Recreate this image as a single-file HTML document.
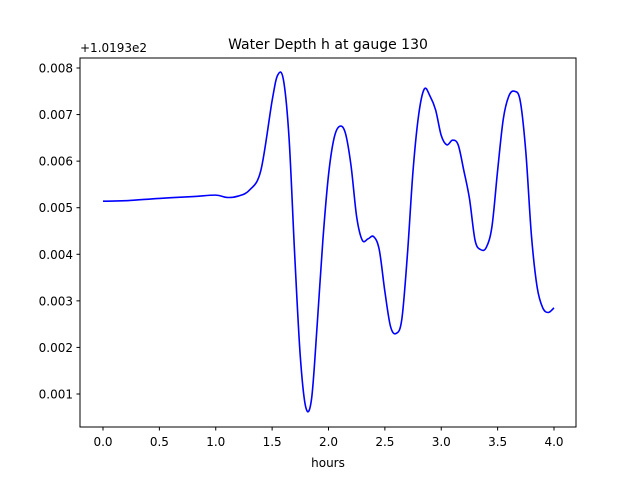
<!DOCTYPE html>
<html><head><meta charset="utf-8"><style>
body{margin:0;background:#fff}
svg{display:block;font-family:"DejaVu Sans","Liberation Sans",sans-serif}
</style></head><body>
<svg id="chart" width="640" height="480">
<rect width="640" height="480" fill="#fff"/>
<text x="328" y="49" text-anchor="middle" font-size="14">Water Depth h at gauge 130</text>
<text x="80" y="52" font-size="12">+1.0193e2</text>
<text x="328" y="467" text-anchor="middle" font-size="12">hours</text>
<g id="xt"></g>
<g id="yt"></g>
<path id="line" fill="none" stroke="#0000ff" stroke-width="1.6"/>
<rect x="80" y="58" width="496" height="369" fill="none" stroke="#000" stroke-width="1"/>
</svg>
<script>
const hours=[0,0.2,0.5,0.8,1.0,1.1,1.2,1.3,1.4,1.5,1.55,1.6,1.65,1.7,1.75,1.8,1.85,1.9,1.95,2.0,2.05,2.1,2.15,2.2,2.25,2.3,2.35,2.4,2.45,2.5,2.55,2.6,2.65,2.7,2.75,2.8,2.85,2.9,2.95,3.0,3.05,3.1,3.15,3.2,3.25,3.3,3.35,3.4,3.45,3.5,3.55,3.6,3.65,3.7,3.75,3.8,3.85,3.9,3.95,4.0];
const depth=[5.14,5.15,5.2,5.24,5.27,5.22,5.25,5.38,5.8,7.3,7.85,7.75,6.5,4.0,1.8,0.7,0.9,2.5,4.3,5.7,6.5,6.75,6.6,5.9,4.8,4.3,4.33,4.38,4.1,3.2,2.45,2.3,2.6,4.0,5.8,7.0,7.55,7.4,7.1,6.55,6.35,6.45,6.35,5.8,5.2,4.3,4.1,4.15,4.6,5.8,6.9,7.4,7.5,7.3,6.2,4.4,3.3,2.85,2.75,2.85];
const xTicks=[0,0.5,1.0,1.5,2.0,2.5,3.0,3.5,4.0];
const yTicks=[1,2,3,4,5,6,7,8];
const X=v=>103+v*112.75, Y=v=>68+(8-v)*46.57;
const ns="http://www.w3.org/2000/svg";
function el(t,a,p){const e=document.createElementNS(ns,t);for(const k in a)e.setAttribute(k,a[k]);p.appendChild(e);return e;}
const xt=document.getElementById('xt'),yt=document.getElementById('yt');
xTicks.forEach(v=>{const l=el('line',{x1:X(v),x2:X(v),y1:427,y2:430.5,stroke:'#000'},xt);


const t=el('text',{x:X(v),y:446,'text-anchor':'middle','font-size':12},xt);t.textContent=v.toFixed(1);

});
yTicks.forEach(v=>{const l=el('line',{x1:76.5,x2:80,y1:Y(v),y2:Y(v),stroke:'#000'},yt);


const t=el('text',{x:73,y:Y(v)+4.5,'text-anchor':'end','font-size':12},yt);t.textContent=(v/1000).toFixed(3);

});
const P=hours.map((h,i)=>[X(h),Y(depth[i])]);
let d='M'+P[0][0]+','+P[0][1];
for(let i=0;i<P.length-1;i++){const p0=P[Math.max(0,i-1)],p1=P[i],p2=P[i+1],p3=P[Math.min(P.length-1,i+2)];
d+=' C'+(p1[0]+(p2[0]-p0[0])/6)+','+(p1[1]+(p2[1]-p0[1])/6)+' '+(p2[0]-(p3[0]-p1[0])/6)+','+(p2[1]-(p3[1]-p1[1])/6)+' '+p2[0]+','+p2[1];}
document.getElementById('line').setAttribute('d',d);
</script>
</body></html>
